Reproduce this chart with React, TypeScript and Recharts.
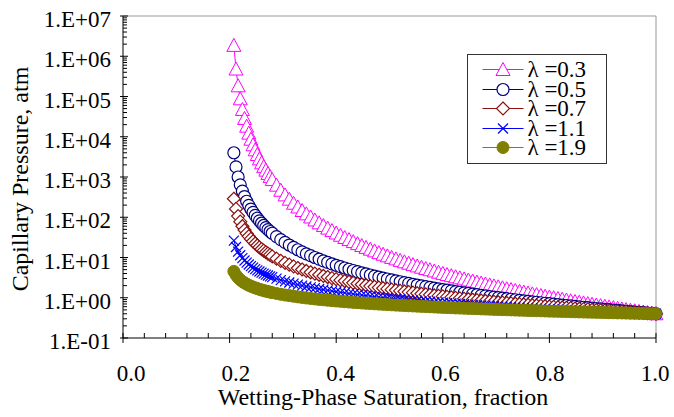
import { LineChart, Line, XAxis, YAxis, ReferenceLine } from 'recharts'

// wetting-phase saturation (fraction)
const sw = [
  0.208, 0.212, 0.216, 0.22, 0.224, 0.228, 0.232, 0.236, 0.24, 0.244, 0.248, 0.252, 0.256, 0.26, 0.264, 0.268, 0.272, 0.276, 0.28,
  0.288, 0.296, 0.304, 0.312, 0.32, 0.328, 0.336, 0.344, 0.352, 0.36,
  0.368, 0.376, 0.384, 0.392, 0.4, 0.408, 0.416, 0.424, 0.432, 0.44,
  0.448, 0.456, 0.464, 0.472, 0.48, 0.488, 0.496, 0.504, 0.512, 0.52,
  0.528, 0.536, 0.544, 0.552, 0.56, 0.568, 0.576, 0.584, 0.592, 0.6,
  0.608, 0.616, 0.624, 0.632, 0.64, 0.648, 0.656, 0.664, 0.672, 0.68,
  0.688, 0.696, 0.704, 0.712, 0.72, 0.728, 0.736, 0.744, 0.752, 0.76,
  0.768, 0.776, 0.784, 0.792, 0.8, 0.808, 0.816, 0.824, 0.832, 0.84,
  0.848, 0.856, 0.864, 0.872, 0.88, 0.888, 0.896, 0.904, 0.912, 0.92,
  0.928, 0.936, 0.944, 0.952, 0.96, 0.968, 0.976, 0.984, 0.992, 1.0,
]

// capillary pressure, atm
const pc03 = [
  1.86e6, 4.81e5, 1.84e5, 8.76e4, 4.77e4, 2.85e4, 1.83e4, 1.23e4, 8690, 6320, 4730, 3620, 2830, 2250, 1810, 1480, 1225, 1023, 862,
  627, 469, 359, 281, 223, 180, 147, 121.5, 101.4, 85.5,
  72.7, 62.2, 53.7, 46.6, 40.6, 35.7, 31.4, 27.9, 24.8, 22.1,
  19.8, 17.8, 16.1, 14.6, 13.2, 12.05, 11.0, 10.06, 9.23, 8.48,
  7.81, 7.21, 6.66, 6.17, 5.73, 5.32, 4.96, 4.62, 4.31, 4.03,
  3.77, 3.54, 3.32, 3.12, 2.94, 2.76, 2.6, 2.46, 2.32, 2.2,
  2.08, 1.97, 1.87, 1.77, 1.68, 1.6, 1.52, 1.45, 1.38, 1.31,
  1.25, 1.2, 1.14, 1.09, 1.04, 0.999, 0.956, 0.916, 0.878, 0.841,
  0.807, 0.775, 0.744, 0.715, 0.688, 0.661, 0.636, 0.613, 0.59, 0.568,
  0.548, 0.528, 0.509, 0.491, 0.475, 0.458, 0.443, 0.428, 0.414, 0.4,
]
const pc05 = [
  4000, 1778, 1000, 640, 444, 327, 250, 198, 160, 132, 111, 94.7, 81.6, 71.1, 62.5, 55.4, 49.4, 44.3, 40,
  33.1, 27.8, 23.7, 20.4, 17.8, 15.6, 13.8, 12.3, 11.1, 10,
  9.07, 8.26, 7.56, 6.94, 6.4, 5.92, 5.49, 5.1, 4.76, 4.44,
  4.16, 3.91, 3.67, 3.46, 3.27, 3.09, 2.92, 2.77, 2.63, 2.5,
  2.38, 2.27, 2.16, 2.07, 1.98, 1.89, 1.81, 1.74, 1.67, 1.6,
  1.54, 1.48, 1.42, 1.37, 1.32, 1.28, 1.23, 1.19, 1.15, 1.11,
  1.07, 1.04, 1.01, 0.977, 0.947, 0.918, 0.891, 0.865, 0.84, 0.816,
  0.793, 0.772, 0.751, 0.73, 0.711, 0.693, 0.675, 0.657, 0.641, 0.625,
  0.61, 0.595, 0.581, 0.567, 0.554, 0.541, 0.528, 0.517, 0.505, 0.494,
  0.483, 0.473, 0.462, 0.453, 0.443, 0.434, 0.425, 0.416, 0.408, 0.4,
]
const pc07 = [
  288, 161, 107, 77.8, 59.9, 48.1, 39.7, 33.6, 28.9, 25.2, 22.3, 19.9, 17.9, 16.2, 14.8, 13.5, 12.5, 11.6, 10.7,
  9.37, 8.27, 7.38, 6.64, 6.01, 5.48, 5.03, 4.63, 4.29, 3.99,
  3.72, 3.48, 3.27, 3.07, 2.9, 2.74, 2.6, 2.47, 2.35, 2.23,
  2.13, 2.04, 1.95, 1.87, 1.79, 1.72, 1.66, 1.59, 1.54, 1.48,
  1.43, 1.38, 1.34, 1.29, 1.25, 1.21, 1.18, 1.14, 1.11, 1.08,
  1.05, 1.02, 0.991, 0.965, 0.94, 0.916, 0.893, 0.871, 0.85, 0.83,
  0.81, 0.792, 0.774, 0.757, 0.74, 0.724, 0.709, 0.694, 0.68, 0.666,
  0.652, 0.64, 0.627, 0.615, 0.603, 0.592, 0.581, 0.571, 0.56, 0.55,
  0.54, 0.531, 0.522, 0.513, 0.504, 0.496, 0.488, 0.48, 0.472, 0.465,
  0.458, 0.451, 0.444, 0.437, 0.43, 0.424, 0.418, 0.412, 0.406, 0.4,
]
const pc11 = [
  26.3, 18.2, 14.0, 11.4, 9.69, 8.43, 7.46, 6.71, 6.1, 5.59, 5.16, 4.8, 4.49, 4.22, 3.98, 3.76, 3.57, 3.4, 3.25,
  2.98, 2.75, 2.56, 2.39, 2.24, 2.12, 2.0, 1.9, 1.81, 1.73,
  1.65, 1.59, 1.52, 1.46, 1.41, 1.36, 1.32, 1.27, 1.23, 1.2,
  1.16, 1.13, 1.1, 1.07, 1.04, 1.01, 0.988, 0.964, 0.942, 0.92,
  0.9, 0.88, 0.862, 0.844, 0.827, 0.81, 0.795, 0.78, 0.765, 0.751,
  0.738, 0.725, 0.712, 0.7, 0.689, 0.678, 0.667, 0.656, 0.646, 0.636,
  0.627, 0.618, 0.609, 0.6, 0.592, 0.584, 0.576, 0.568, 0.561, 0.553,
  0.546, 0.539, 0.533, 0.526, 0.52, 0.513, 0.507, 0.501, 0.495, 0.49,
  0.484, 0.479, 0.474, 0.469, 0.464, 0.459, 0.454, 0.449, 0.445, 0.44,
  0.436, 0.431, 0.427, 0.423, 0.419, 0.415, 0.411, 0.407, 0.404, 0.4,
]
const pc19 = [
  4.52, 3.65, 3.14, 2.79, 2.53, 2.34, 2.18, 2.05, 1.94, 1.84, 1.76, 1.69, 1.62, 1.56, 1.51, 1.46, 1.42, 1.38, 1.34,
  1.28, 1.22, 1.17, 1.13, 1.09, 1.05, 1.02, 0.986, 0.959, 0.933,
  0.909, 0.888, 0.867, 0.848, 0.83, 0.813, 0.797, 0.782, 0.767, 0.754,
  0.741, 0.729, 0.717, 0.706, 0.695, 0.685, 0.675, 0.666, 0.656, 0.648,
  0.639, 0.631, 0.624, 0.616, 0.609, 0.602, 0.595, 0.589, 0.582, 0.576,
  0.57, 0.564, 0.558, 0.553, 0.548, 0.543, 0.538, 0.533, 0.528, 0.523,
  0.519, 0.514, 0.51, 0.506, 0.502, 0.498, 0.494, 0.49, 0.486, 0.483,
  0.479, 0.476, 0.472, 0.469, 0.465, 0.462, 0.459, 0.456, 0.453, 0.45,
  0.447, 0.444, 0.441, 0.438, 0.436, 0.433, 0.43, 0.428, 0.425, 0.423,
  0.42, 0.418, 0.416, 0.413, 0.411, 0.409, 0.406, 0.405, 0.402, 0.4,
]

const seriesNames = ['λ =0.3', 'λ =0.5', 'λ =0.7', 'λ =1.1', 'λ =1.9']

const xTicks = [
  0, 0.04, 0.08, 0.12, 0.16, 0.2, 0.24, 0.28, 0.32, 0.36, 0.4, 0.44, 0.48,
  0.52, 0.56, 0.6, 0.64, 0.68, 0.72, 0.76, 0.8, 0.84, 0.88, 0.92, 0.96, 1.0,
]
const xTickLabels = ['0.0', '0.2', '0.4', '0.6', '0.8', '1.0']

const yMajorTicks = [0.1, 1, 10, 100, 1e3, 1e4, 1e5, 1e6, 1e7]
const yTickLabels = ['1.E-01', '1.E+00', '1.E+01', '1.E+02', '1.E+03', '1.E+04', '1.E+05', '1.E+06', '1.E+07']
const yMinorTicks = yMajorTicks.slice(0, -1).flatMap((d) => [2, 3, 4, 5, 6, 7, 8, 9].map((m) => +(d * m).toPrecision(3)))
const yTicks = [...yMajorTicks, ...yMinorTicks].sort((a, b) => a - b)

const data = sw.map((s, i) => ({
  sw: s,
  a: pc03[i],
  b: pc05[i],
  c: pc07[i],
  d: pc11[i],
  e: pc19[i],
}))

const FONT = 'Liberation Serif, Times New Roman, Times, serif'
const txt = { fontFamily: FONT }
const MAGENTA = '#FF00FF'
const NAVY = '#000080'
const BROWN = '#8B1010'
const BLUE = '#0000FF'
const OLIVE = '#808000'

const XTick = (props: any) => {
  const { x, y, payload } = props
  const v = payload.value
  const major = Math.abs(v * 5 - Math.round(v * 5)) < 1e-6
  return (
    <g>
      <line x1={x} x2={x} y1={y - 5} y2={major ? y + 5 : y} stroke="#000" />
      {major && (
        <text x={x + 8 - 9 * v} y={y + 43} textAnchor="middle" fontSize={23} style={txt} fill="#000">
          {xTickLabels[Math.round(v * 5)]}
        </text>
      )}
    </g>
  )
}

const YTick = (props: any) => {
  const { x, y, payload } = props
  const idx = yMajorTicks.indexOf(payload.value)
  const major = idx >= 0
  return (
    <g>
      <line x1={major ? x - 3 : x} x2={x + (major ? 5 : 4)} y1={y} y2={y} stroke="#000" />
      {major && (
        <text x={x - 12} y={y + 11} textAnchor="end" fontSize={23} style={txt} fill="#000">
          {yTickLabels[idx]}
        </text>
      )}
    </g>
  )
}

const triangle = (cx: number, cy: number, color: string, key?: any) => (
  <polygon
    key={key}
    points={`${cx},${cy - 7} ${cx - 7},${cy + 6} ${cx + 7},${cy + 6}`}
    fill="#fff"
    stroke={color}
    strokeWidth={1}
  />
)
const ring = (cx: number, cy: number, color: string, key?: any) => (
  <circle key={key} cx={cx} cy={cy} r={6} fill="#fff" stroke={color} strokeWidth={1.2} />
)
const diamond = (cx: number, cy: number, color: string, key?: any) => (
  <polygon
    key={key}
    points={`${cx},${cy - 6.5} ${cx + 6.5},${cy} ${cx},${cy + 6.5} ${cx - 6.5},${cy}`}
    fill="#fff"
    stroke={color}
    strokeWidth={1.2}
  />
)
const cross = (cx: number, cy: number, color: string, key?: any) => (
  <path
    key={key}
    d={`M${cx - 5},${cy - 5}L${cx + 5},${cy + 5}M${cx - 5},${cy + 5}L${cx + 5},${cy - 5}`}
    stroke={color}
    strokeWidth={1.2}
    fill="none"
  />
)
const disc = (cx: number, cy: number, color: string, key?: any) => (
  <circle key={key} cx={cx} cy={cy} r={6} fill={color} stroke={color} strokeWidth={1} />
)

const markers = [triangle, ring, diamond, cross, disc]
const colors = [MAGENTA, NAVY, BROWN, BLUE, OLIVE]
const keys = ['a', 'b', 'c', 'd', 'e']

export default function App() {
  return (
    <div style={{ position: 'absolute', left: 0, top: 0, width: 674, height: 417, background: '#fff', fontFamily: FONT }}>
      <LineChart width={674} height={417} data={data} margin={{ top: 16, right: 18, left: 0, bottom: 0 }}>
        <XAxis
          dataKey="sw"
          type="number"
          domain={[0, 1]}
          ticks={xTicks}
          interval={0}
          tickSize={0}
          tickMargin={0}
          tick={<XTick />}
          axisLine={{ stroke: '#000' }}
          height={79}
        />
        <YAxis
          type="number"
          scale="log"
          domain={[0.1, 1e7]}
          ticks={yTicks}
          interval={0}
          tickSize={0}
          tickMargin={0}
          tick={<YTick />}
          axisLine={{ stroke: '#000' }}
          width={123}
        />
        <ReferenceLine y={1e7} stroke="#999" />
        <ReferenceLine x={1} stroke="#999" />
        {keys.map((k, i) => (
          <Line
            key={k}
            dataKey={k}
            name={seriesNames[i]}
            stroke={colors[i]}
            strokeWidth={1}
            isAnimationActive={false}
            activeDot={false}
            dot={(p: any) => markers[i](p.cx, p.cy, colors[i], `${k}-${p.index}`)}
          />
        ))}
      </LineChart>
      <svg
        width={674}
        height={417}
        style={{ position: 'absolute', left: 0, top: 0, pointerEvents: 'none' }}
      >
        <text x={383} y={405} textAnchor="middle" fontSize={24} style={txt} fill="#000">
          Wetting-Phase Saturation, fraction
        </text>
        <text transform="rotate(-90)" x={-179} y={28} textAnchor="middle" fontSize={24} style={txt} fill="#000">
          Capillary Pressure, atm
        </text>
        <g transform="translate(467.5,54.5)">
          <rect x={0} y={0} width={139} height={109} fill="#fff" stroke="#333" />
          {seriesNames.map((n, i) => {
            const cy = 15 + Math.round(i * 19.5)
            return (
              <g key={n}>
                <line x1={15} x2={56} y1={cy} y2={cy} stroke={colors[i]} />
                {markers[i](35.5, cy, colors[i])}
                <text x={60} y={cy + 7} fontSize={23} style={txt} fill="#000">
                  {n}
                </text>
              </g>
            )
          })}
        </g>
      </svg>
    </div>
  )
}
